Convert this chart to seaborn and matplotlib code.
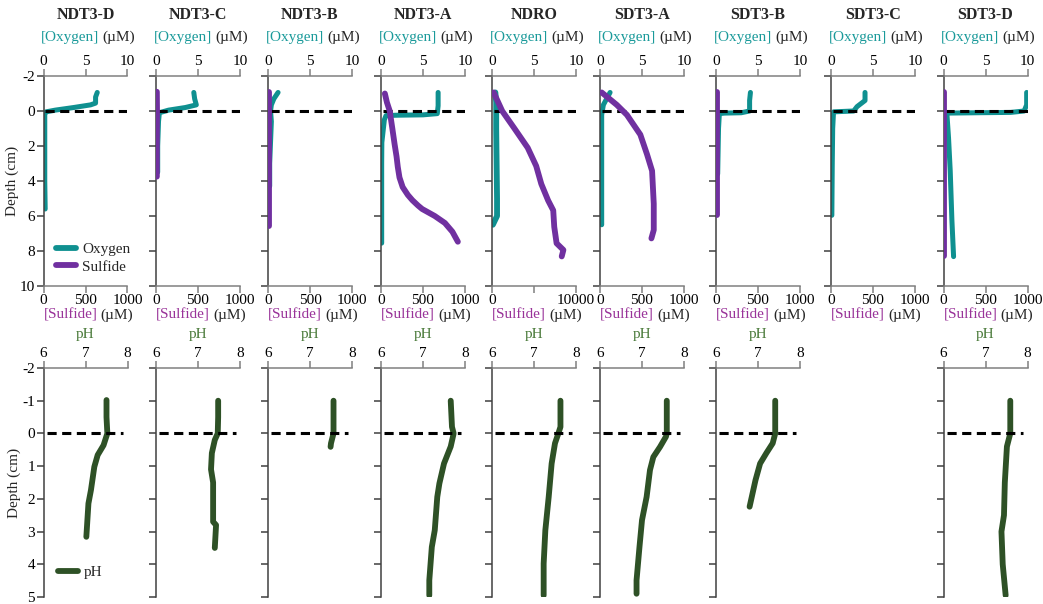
import matplotlib
matplotlib.use("Agg")
import matplotlib.pyplot as plt
from matplotlib.lines import Line2D
import seaborn as sns

# ----------------------------------------------------------
# Data
# each profile is a list of (depth cm, value)
# ----------------------------------------------------------
sites = ["NDT3-D", "NDT3-C", "NDT3-B", "NDT3-A", "NDRO",
         "SDT3-A", "SDT3-B", "SDT3-C", "SDT3-D"]

# oxygen, uM
o2_ndt3d = [(-1.06, 6.4), (-0.8, 6.2), (-0.45, 6.2), (-0.35, 5.6), (-0.2, 3.6),
            (-0.05, 1.4), (0.05, 0.3), (0.2, 0.15), (2.0, 0.15), (4.0, 0.15), (5.6, 0.2)]
o2_ndt3c = [(-1.06, 4.5), (-0.7, 4.6), (-0.35, 4.8), (-0.2, 3.5), (-0.05, 1.5),
            (0.1, 0.4), (0.6, 0.3), (2.0, 0.2), (3.5, 0.2)]
o2_ndt3b = [(-1.06, 1.2), (-0.7, 0.7), (-0.35, 0.4), (0.0, 0.3), (0.6, 0.4),
            (1.8, 0.3), (3.0, 0.2), (4.3, 0.2)]
o2_ndt3a = [(-1.06, 6.8), (-0.6, 6.8), (-0.3, 6.8), (0.15, 6.7), (0.22, 5.0),
            (0.24, 2.0), (0.26, 0.6), (0.5, 0.4), (1.8, 0.1), (3.0, 0.08), (7.55, 0.08)]
o2_ndro = [(-1.06, 0.4), (-0.5, 0.5), (0.0, 0.5), (1.0, 0.5), (3.0, 0.55),
           (5.0, 0.6), (6.0, 0.6), (6.5, 0.1)]
o2_sdt3a = [(-1.06, 1.2), (-0.35, 0.4), (0.22, 0.2), (2.0, 0.2), (4.0, 0.2), (6.5, 0.2)]
o2_sdt3b = [(-1.06, 4.1), (-0.6, 4.0), (0.0, 4.0), (0.1, 3.0), (0.12, 1.0),
            (0.15, 0.4), (1.0, 0.3), (3.6, 0.2)]
o2_sdt3c = [(-1.06, 4.05), (-0.6, 4.05), (-0.25, 3.1), (0.0, 2.7), (0.03, 1.2),
            (0.05, 0.3), (1.0, 0.2), (3.0, 0.15), (5.96, 0.1)]
o2_sdt3d = [(-1.06, 9.9), (-0.35, 9.9), (0.0, 9.6), (0.08, 8.0), (0.1, 4.0),
            (0.12, 0.4), (1.54, 0.6), (3.42, 0.8), (6.24, 1.0), (8.32, 1.2)]

# sulfide, uM
hs_ndt3c = [(-1.1, 10), (0.0, 12), (2.0, 10), (3.75, 10)]
hs_ndt3b = [(-1.1, 10), (2.0, 10), (4.0, 10), (6.55, 10)]
hs_ndt3a = [(-1.0, 46), (-0.5, 70), (0.0, 104), (1.0, 135), (1.9, 162), (2.6, 185),
            (3.2, 200), (3.8, 220), (4.35, 258), (4.8, 320), (5.1, 374), (5.4, 440),
            (5.6, 490), (6.0, 640), (6.4, 761), (6.9, 850), (7.47, 915)]
hs_ndro = [(-1.06, 200), (0.0, 1215), (0.97, 2630), (2.1, 4250), (3.14, 5260),
           (4.17, 5870), (5.11, 6680), (5.68, 7290), (6.62, 7410), (7.56, 7690),
           (7.94, 8500), (8.31, 8300)]
hs_sdt3a = [(-1.06, 20), (-0.35, 200), (0.22, 320), (1.35, 480), (2.48, 560),
            (3.42, 620), (5.3, 640), (6.8, 640), (7.28, 612)]
hs_sdt3b = [(-1.1, 12), (2.0, 12), (5.96, 12)]
hs_sdt3d = [(-1.1, 10), (3.0, 10), (6.0, 10), (8.3, 10)]

# pH
ph_ndt3d = [(-1.02, 7.50), (-0.5, 7.50), (0.0, 7.52), (0.36, 7.43), (0.66, 7.29),
            (1.02, 7.21), (1.73, 7.13), (2.14, 7.07), (2.75, 7.04), (3.16, 7.02)]
ph_ndt3c = [(-1.0, 7.48), (-0.5, 7.48), (0.0, 7.47), (0.2, 7.40), (0.6, 7.33),
            (1.1, 7.31), (1.5, 7.36), (2.7, 7.36), (2.8, 7.43), (3.5, 7.40)]
ph_ndt3b = [(-1.0, 7.56), (-0.5, 7.56), (0.0, 7.56), (0.3, 7.50), (0.41, 7.49)]
ph_ndt3a = [(-1.0, 7.66), (-0.2, 7.69), (0.0, 7.73), (0.4, 7.66), (0.92, 7.50),
            (1.53, 7.39), (1.94, 7.34), (2.96, 7.28), (3.47, 7.21), (4.49, 7.15), (4.95, 7.15)]
ph_ndro = [(-1.0, 7.63), (-0.2, 7.63), (0.0, 7.58), (0.3, 7.50), (0.92, 7.42),
           (1.94, 7.35), (2.96, 7.27), (3.98, 7.23), (4.95, 7.23)]
ph_sdt3a = [(-1.0, 7.59), (0.0, 7.59), (0.1, 7.57), (0.41, 7.43), (0.72, 7.27),
            (1.12, 7.19), (1.94, 7.11), (2.65, 7.00), (3.47, 6.94), (4.49, 6.87), (4.9, 6.87)]
ph_sdt3b = [(-1.0, 7.41), (0.0, 7.41), (0.3, 7.35), (0.6, 7.20), (0.92, 7.05),
            (1.43, 6.94), (2.24, 6.80)]
ph_sdt3d = [(-1.0, 7.59), (0.0, 7.59), (0.4, 7.51), (1.5, 7.46), (2.5, 7.44),
            (3.0, 7.38), (4.0, 7.41), (4.95, 7.48)]

oxygen = dict(zip(sites, [o2_ndt3d, o2_ndt3c, o2_ndt3b, o2_ndt3a, o2_ndro,
                          o2_sdt3a, o2_sdt3b, o2_sdt3c, o2_sdt3d]))
sulfide = {"NDT3-C": hs_ndt3c, "NDT3-B": hs_ndt3b, "NDT3-A": hs_ndt3a, "NDRO": hs_ndro,
           "SDT3-A": hs_sdt3a, "SDT3-B": hs_sdt3b, "SDT3-D": hs_sdt3d}
ph = {"NDT3-D": ph_ndt3d, "NDT3-C": ph_ndt3c, "NDT3-B": ph_ndt3b, "NDT3-A": ph_ndt3a,
      "NDRO": ph_ndro, "SDT3-A": ph_sdt3a, "SDT3-B": ph_sdt3b, "SDT3-D": ph_sdt3d}

# ----------------------------------------------------------
# Style
# ----------------------------------------------------------
sns.set_style("ticks")
plt.rcParams["font.family"] = ["Liberation Serif", "DejaVu Serif"]
plt.rcParams["font.size"] = 11
plt.rcParams["axes.unicode_minus"] = False

TEAL = "#0f9090"
PURPLE = "#7030a0"
GREEN = "#2e5126"
TEAL_TXT = "#1a9a9a"
PURPLE_TXT = "#993399"
GREEN_TXT = "#4a7a3a"
DARK = "#404040"
GREY = "#808080"
LW = 3.6
LW_THICK = 4.2

W, H = 1043, 604
fig = plt.figure(figsize=(W / 100, H / 100), dpi=100)

col_left = [43.5, 156, 268, 381, 492, 600, 716, 831, 943.5]
col_w = 84
top_y0, top_y1 = 76, 286
bot_y0, bot_y1 = 368, 597


def box(x0, y0, y1):
    return [x0 / W, 1 - y1 / H, col_w / W, (y1 - y0) / H]


def ftext(x, y, s, **kw):
    fig.text(x / W, 1 - y / H, s, va="center", **kw)


def profile(ax, data, color, lw=LW):
    d = [p[0] for p in data]
    v = [p[1] for p in data]
    sns.lineplot(x=v, y=d, ax=ax, sort=False, estimator=None, color=color,
                 lw=lw, solid_capstyle="round", legend=False)


def spines(ax, keep):
    for s in ["left", "right", "top", "bottom"]:
        ax.spines[s].set_visible(s in keep)
        ax.spines[s].set_linewidth(1.1)
        ax.spines[s].set_color(DARK if s == "left" else GREY)


def xticks_style(ax):
    ax.tick_params(axis="x", colors=GREY, labelcolor="black", length=5, width=1.1, pad=1)


for i, site in enumerate(sites):
    cx = col_left[i] + col_w / 2

    # ---------------- top row: oxygen (top axis) + sulfide (bottom axis) ----------------
    ax = fig.add_axes(box(col_left[i], top_y0, top_y1))
    axs = ax.twiny()

    profile(ax, oxygen[site], TEAL, lw=LW_THICK if site == "NDRO" else LW)
    ax.axhline(0, xmin=0.02, xmax=1.0, color="black", lw=2.2,
               ls=(0, (3, 1.8)), zorder=5)
    ax.set_xlim(0, 10)
    ax.set_ylim(10, -2)
    ax.set_xticks([0, 5, 10])
    ax.set_yticks([-2, 0, 2, 4, 6, 8, 10])
    ax.xaxis.set_ticks_position("top")
    ax.xaxis.set_label_position("top")
    xticks_style(ax)
    ax.tick_params(axis="y", colors=DARK, labelcolor="black", length=5, width=1.1, pad=1)
    spines(ax, ["left", "top"])
    ax.set_xlabel("")
    if i == 0:
        ax.set_ylabel("Depth (cm)", labelpad=1)
    else:
        ax.set_ylabel("")
        ax.set_yticklabels([])

    if site in sulfide:
        profile(axs, sulfide[site], PURPLE, lw=LW_THICK)
    if site == "NDRO":
        axs.set_xlim(0, 10000)
        axs.set_xticks([0, 5000, 10000])
        axs.set_xticklabels(["0", "", "10000"])
    else:
        axs.set_xlim(0, 1000)
        axs.set_xticks([0, 500, 1000])
    axs.xaxis.set_ticks_position("bottom")
    axs.xaxis.set_label_position("bottom")
    axs.set_ylim(10, -2)
    xticks_style(axs)
    spines(axs, ["bottom"])
    axs.set_xlabel("")

    if i == 0:
        handles = [Line2D([], [], color=TEAL, lw=LW_THICK, solid_capstyle="round"),
                   Line2D([], [], color=PURPLE, lw=LW_THICK, solid_capstyle="round")]
        axs.legend(handles, ["Oxygen", "Sulfide"], loc="lower left",
                   bbox_to_anchor=(0.08, 0.03), frameon=False, handlelength=1.3,
                   handletextpad=0.4, labelspacing=0.25, borderaxespad=0)

    # headers
    ftext(cx, 15, site, ha="center", fontweight="bold", fontsize=11.5)
    ftext(cx + 14, 37, "[Oxygen]", ha="right", color=TEAL_TXT)
    ftext(cx + 17, 37, "(µM)", ha="left")
    ftext(cx + 12, 315, "[Sulfide]", ha="right", color=PURPLE_TXT)
    ftext(cx + 15, 315, "(µM)", ha="left")

    # ---------------- bottom row: pH ----------------
    if site not in ph:
        continue
    ftext(cx, 334, "pH", ha="center", color=GREEN_TXT)
    bx = fig.add_axes(box(col_left[i], bot_y0, bot_y1))
    profile(bx, ph[site], GREEN, lw=LW_THICK)
    bx.axhline(0, xmin=0.04, xmax=0.95, color="black", lw=2.2,
               ls=(0, (3, 1.8)), zorder=5)
    bx.set_xlim(6, 8)
    bx.set_ylim(5, -2)
    bx.set_xticks([6, 7, 8])
    bx.set_yticks(range(-2, 6))
    bx.xaxis.set_ticks_position("top")
    xticks_style(bx)
    bx.tick_params(axis="y", colors=DARK, labelcolor="black", length=5, width=1.1, pad=1)
    spines(bx, ["left", "top"])
    bx.set_xlabel("")
    if i == 0:
        bx.set_ylabel("Depth (cm)", labelpad=1)
        bx.legend([Line2D([], [], color=GREEN, lw=LW_THICK, solid_capstyle="round")], ["pH"],
                  loc="lower left", bbox_to_anchor=(0.1, 0.05), frameon=False,
                  handlelength=1.3, handletextpad=0.4, borderaxespad=0)
    else:
        bx.set_ylabel("")
        bx.set_yticklabels([])

fig.savefig("out.png", dpi=100)
